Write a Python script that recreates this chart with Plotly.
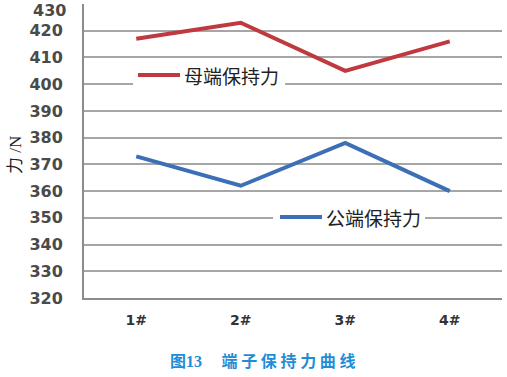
import plotly.graph_objects as go

categories = ["1#", "2#", "3#", "4#"]
female_force = [417, 423, 405, 416]
male_force = [373, 362, 378, 360]
y_ticks = [320, 330, 340, 350, 360, 370, 380, 390, 400, 410, 420, 430]
series_names = ["母端保持力", "公端保持力"]

RED = "#bf3a3f"
BLUE = "#3c6fb6"

W, H = 507, 377
ML, MR, MT, MB = 84, 5, 4, 79
PW, PH = W - ML - MR, H - MT - MB


def px(x):
    return (x - ML) / PW


def py(y):
    return (H - MB - y) / PH


# top tick label is drawn separately so it stays inside the page
tick_text = [str(v) for v in y_ticks[:-1]] + [""]
tick_font = dict(family="DejaVu Sans", size=16, color="#4a4a4a", weight="bold")

fig = go.Figure()
fig.add_trace(go.Scatter(x=categories, y=female_force, mode="lines", name=series_names[0],
                         line=dict(color=RED, width=4), showlegend=False))
fig.add_trace(go.Scatter(x=categories, y=male_force, mode="lines", name=series_names[1],
                         line=dict(color=BLUE, width=4), showlegend=False))

fig.update_layout(
    width=W, height=H,
    margin=dict(l=ML, r=MR, t=MT, b=MB, autoexpand=False),
    paper_bgcolor="white", plot_bgcolor="white",
    xaxis=dict(range=[-0.5, 3.5], showgrid=False, showline=True, linecolor="#8c8c8c",
               linewidth=2, zeroline=False, automargin=False,
               ticks="", tickfont=dict(family="DejaVu Sans", size=14, color="#333", weight="bold"),
               ticklabelstandoff=8),
    yaxis=dict(range=[320, 430], tickvals=y_ticks, ticktext=tick_text, showgrid=True,
               gridcolor="#a6a6a6",
               gridwidth=1.5, showline=True, linecolor="#8c8c8c", linewidth=2,
               zeroline=False, ticks="", automargin=False,
               tickfont=tick_font, ticklabelstandoff=16),
)

fig.add_annotation(text=str(y_ticks[-1]), xref="paper", yref="paper", x=px(68), y=py(10),
                   xanchor="right", yanchor="middle", showarrow=False, font=tick_font)

# manual legends (white box over gridlines, sample line, label)
legend_specs = [
    # (box x0, x1, y0, y1, line x0, x1, y, text x, color, name)
    (133, 285, 62, 90, 138, 180, 75, 182, RED, series_names[0]),
    (273, 425, 204, 232, 280, 322, 217, 324, BLUE, series_names[1]),
]
for bx0, bx1, by0, by1, lx0, lx1, ly, tx, col, name in legend_specs:
    fig.add_shape(type="rect", xref="paper", yref="paper", x0=px(bx0), x1=px(bx1),
                  y0=py(by1), y1=py(by0), fillcolor="white", line=dict(width=0), layer="above")
    fig.add_shape(type="line", xref="paper", yref="paper", x0=px(lx0), x1=px(lx1),
                  y0=py(ly), y1=py(ly), line=dict(color=col, width=4), layer="above")
    fig.add_annotation(text=name, xref="paper", yref="paper", x=px(tx), y=py(ly),
                       xanchor="left", yanchor="middle", showarrow=False,
                       font=dict(family="Noto Sans CJK SC", size=19, color="#222"))

fig.add_annotation(text="力 /N", xref="paper", yref="paper", x=px(15), y=py(155),
                   xanchor="center", yanchor="middle",
                   textangle=-90, showarrow=False,
                   font=dict(family="Liberation Serif, Noto Sans CJK SC", size=17, color="#222"))
fig.add_annotation(text="<b>图<span style='font-family:Liberation Serif'>13</span></b>　 <b>端 子 保 持 力 曲 线</b>",
                   xref="paper", yref="paper",
                   x=px(262), y=py(360), xanchor="center", yanchor="middle", showarrow=False,
                   font=dict(family="Noto Sans CJK SC", size=16, color="#1f8dd6"))

fig.write_html("out.html", config={"displayModeBar": False},
               post_script="document.body.style.margin='0';document.body.style.padding='0';")
